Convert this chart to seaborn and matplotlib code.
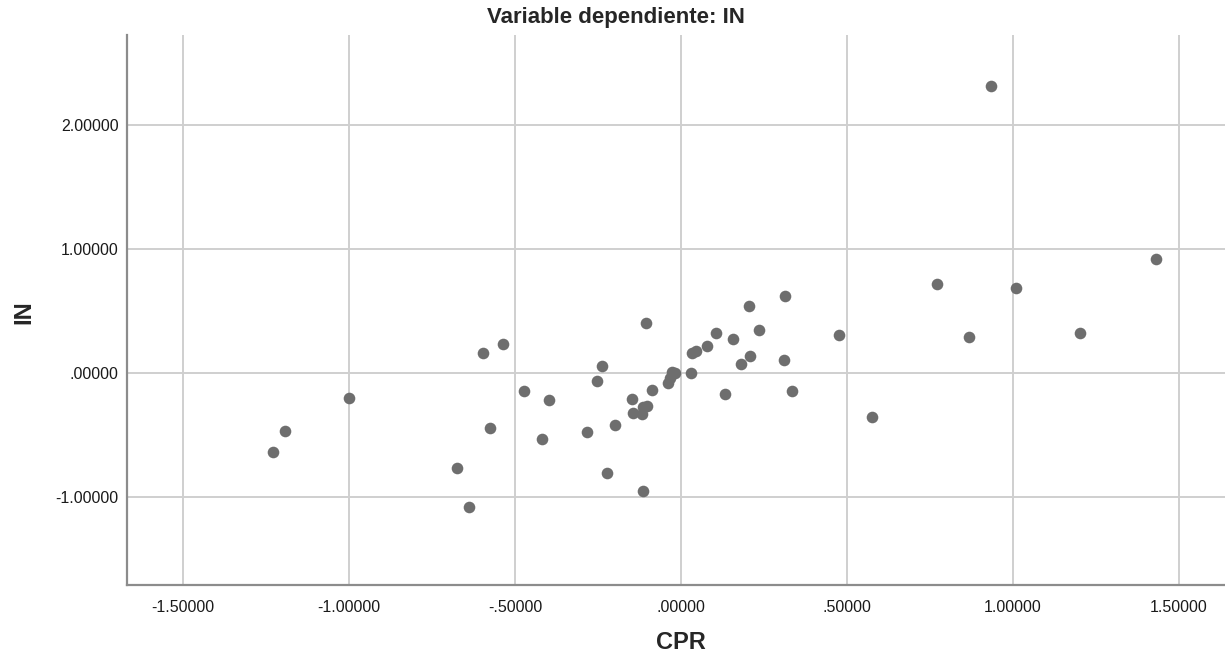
import matplotlib
matplotlib.use("Agg")
import matplotlib.pyplot as plt
import matplotlib.ticker as mticker
import seaborn as sns
import pandas as pd

# Partial regression values: CPR (x) against IN (y)
cpr = [-1.229, -1.192, -1.001, -0.674, -0.639, -0.598, -0.574, -0.536, -0.474, -0.419,
       -0.398, -0.284, -0.254, -0.237, -0.223, -0.199, -0.147, -0.144, -0.118, -0.114,
       -0.114, -0.105, -0.103, -0.087, -0.038, -0.033, -0.028, -0.018, 0.030, 0.032,
       0.045, 0.079, 0.105, 0.133, 0.158, 0.182, 0.205, 0.209, 0.235, 0.311,
       0.313, 0.334, 0.475, 0.576, 0.771, 0.868, 0.933, 1.010, 1.201, 1.430]
in_vals = [-0.634, -0.470, -0.204, -0.766, -1.083, 0.164, -0.444, 0.231, -0.148, -0.535,
           -0.218, -0.473, -0.067, 0.059, -0.806, -0.417, -0.212, -0.325, -0.333, -0.277,
           -0.949, 0.401, -0.266, -0.140, -0.083, -0.043, 0.010, 0.002, 0.003, 0.158,
           0.177, 0.220, 0.320, -0.167, 0.271, 0.073, 0.543, 0.140, 0.344, 0.105,
           0.618, -0.143, 0.304, -0.357, 0.718, 0.288, 2.317, 0.688, 0.323, 0.922]

x_ticks = [-1.5, -1.0, -0.5, 0.0, 0.5, 1.0, 1.5]
y_ticks = [-1.0, 0.0, 1.0, 2.0]

df = pd.DataFrame({"CPR": cpr, "IN": in_vals})

sns.set_style("white")
plt.rcParams["font.family"] = ["Liberation Sans", "DejaVu Sans"]

fig = plt.figure(figsize=(12.25, 6.62), dpi=100)
ax = fig.add_axes([0.1037, 0.1163, 0.8963, 0.8308])

sns.scatterplot(data=df, x="CPR", y="IN", ax=ax, color="#6e6e6e", s=70,
                linewidth=0, zorder=3)

ax.set_xlim(-1.669, 1.639)
ax.set_ylim(-1.71, 2.726)
ax.set_xticks(x_ticks)
ax.set_yticks(y_ticks)


def spss_fmt(v, pos=None):
    s = f"{v:.5f}"
    if s.startswith("0."):
        s = s[1:]
    elif s.startswith("-0."):
        s = "-" + s[2:]
    return s


ax.xaxis.set_major_formatter(mticker.FuncFormatter(spss_fmt))
ax.yaxis.set_major_formatter(mticker.FuncFormatter(spss_fmt))

ax.grid(True, color="#cfcfcf", linewidth=1.4, zorder=0)
ax.set_axisbelow(True)
for side in ("top", "right"):
    ax.spines[side].set_visible(False)
for side in ("left", "bottom"):
    ax.spines[side].set_color("#8c8c8c")
    ax.spines[side].set_linewidth(1.6)

ax.tick_params(axis="both", length=0, labelsize=11.5, colors="#1a1a1a")
ax.tick_params(axis="x", pad=11)
ax.tick_params(axis="y", pad=6)

ax.set_xlabel("CPR", fontsize=17, fontweight="bold")
ax.xaxis.label.set_va("center")
ax.xaxis.set_label_coords(0.5046, -0.105)

ax.set_ylabel("IN", fontsize=17, fontweight="bold")
ax.yaxis.label.set_va("center")
ax.yaxis.label.set_ha("center")
ax.yaxis.set_label_coords(-0.094, 0.496)

fig.text(616 / 1225, 1 - 18 / 662, "Variable dependiente: IN", ha="center", va="center",
         fontsize=16, fontweight="bold")

fig.savefig("out.png", dpi=100)
